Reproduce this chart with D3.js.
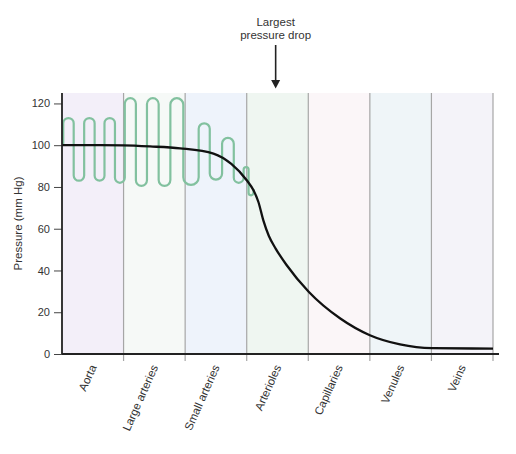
<!DOCTYPE html>
<html>
<head>
<meta charset="utf-8">
<script src="https://cdn.jsdelivr.net/npm/d3@7"></script>
<style>
  body { margin: 0; background: #fff; }
  text { font-family: "Liberation Sans", Arial, sans-serif; fill: #333; }
</style>
</head>
<body>
<div id="chart"></div>
<script>
var vessels = ["Aorta", "Large arteries", "Small arteries", "Arterioles", "Capillaries", "Venules", "Veins"];
var bandColors = ["#f3eff9", "#f6f9f7", "#eef3fb", "#eff6f1", "#fbf6f8", "#eff5f8", "#f4f3f9"];
var yTicks = [0, 20, 40, 60, 80, 100, 120];

// mean pressure along the circulation (position in vessel segments)
var meanPos = [0, 0.62, 1.0, 1.43, 1.92, 2.46, 2.75, 3.0, 3.11, 3.19, 3.27, 3.36, 3.47, 3.65, 4.01, 4.52, 5.0, 5.49, 6.01, 7.0];
var meanPressure = [100, 100, 99.9, 99.4, 98.5, 96, 91, 83.2, 78.4, 72.8, 64, 56.5, 50.5, 42.5, 29.7, 17, 9, 4.6, 2.8, 2.6];

// pulsatile pressure: position of each stroke and the pressure where it turns
var pulseStart = 100;
var pulsePos = [0.02, 0.19, 0.36, 0.53, 0.69, 0.86, 1.02, 1.20, 1.38, 1.57, 1.76, 1.97, 2.22, 2.40, 2.60, 2.79, 2.95, 3.03, 3.11];
var pulsePressure = [113, 83, 113, 83, 113, 82, 122.5, 80.5, 122.5, 80.5, 122.5, 81, 110.5, 83.5, 103.5, 82, 89.5, 76, 79];

var annotation = ["Largest", "pressure drop"];
var annotationPos = 3.47;

var width = 516, height = 454;
var margin = {top: 93, right: 23, bottom: 100, left: 62};

var svg = d3.select("#chart").append("svg")
    .attr("width", width)
    .attr("height", height);

var x = d3.scaleLinear()
    .domain([0, vessels.length])
    .range([margin.left, width - margin.right]);

var band = d3.scaleBand()
    .domain(vessels)
    .range(x.range());

var y = d3.scaleLinear()
    .domain([0, 125])
    .range([height - margin.bottom, margin.top]);

// background bands
svg.append("g").selectAll("rect").data(vessels)
  .enter().append("rect")
    .attr("x", function(d) { return band(d); })
    .attr("y", y(125))
    .attr("width", band.bandwidth())
    .attr("height", y(0) - y(125))
    .attr("fill", function(d, i) { return bandColors[i]; });

// separators, running through to the ticks under the axis
svg.append("g").selectAll("line").data(d3.range(1, vessels.length + 1))
  .enter().append("line")
    .attr("x1", function(d) { return x(d); })
    .attr("x2", function(d) { return x(d); })
    .attr("y1", y(125))
    .attr("y2", y(0) + 7)
    .attr("stroke", "#a6a6a6")
    .attr("stroke-width", 1.2);

// pulse trace: vertical strokes joined by round caps
var p = d3.path();
p.moveTo(x(pulsePos[0]), y(pulseStart));
var prev = pulseStart;
pulsePos.forEach(function(pos, i) {
  var xi = x(pos), yi = y(pulsePressure[i]);
  if (i < pulsePos.length - 1) {
    var r = (x(pulsePos[i + 1]) - xi) / 2;
    var up = pulsePressure[i] > prev;
    var cy = up ? yi + r : yi - r;
    p.lineTo(xi, cy);
    p.arc(xi + r, cy, r, Math.PI, up ? 2 * Math.PI : 0, !up);
  } else {
    p.lineTo(xi, yi);
  }
  prev = pulsePressure[i];
});

svg.append("path")
    .attr("d", p.toString())
    .attr("fill", "none")
    .attr("stroke", "#82c19f")
    .attr("stroke-width", 2.2);

// mean pressure curve
var line = d3.line()
    .x(function(d) { return x(d[0]); })
    .y(function(d) { return y(d[1]); })
    .curve(d3.curveMonotoneX);

svg.append("path")
    .datum(d3.zip(meanPos, meanPressure))
    .attr("d", line)
    .attr("fill", "none")
    .attr("stroke", "#111")
    .attr("stroke-width", 2.3);

// y axis
var yAxis = svg.append("g")
    .attr("transform", "translate(" + margin.left + ",0)")
    .call(d3.axisLeft(y).tickValues(yTicks).tickSize(8).tickPadding(4));
yAxis.select(".domain").remove();
yAxis.selectAll(".tick line").attr("stroke", "#444");
yAxis.selectAll(".tick text")
    .style("font-family", "'Liberation Sans', Arial, sans-serif")
    .style("font-size", "11px")
    .attr("fill", "#333");

svg.append("line")
    .attr("x1", margin.left).attr("x2", margin.left)
    .attr("y1", y(125)).attr("y2", y(0))
    .attr("stroke", "#222").attr("stroke-width", 1.8);

svg.append("line")
    .attr("x1", margin.left).attr("x2", x(vessels.length) + 6)
    .attr("y1", y(0)).attr("y2", y(0))
    .attr("stroke", "#222").attr("stroke-width", 1.8);

svg.append("text")
    .attr("transform", "translate(22," + (y(0) + y(125)) / 2 + ") rotate(-90)")
    .attr("text-anchor", "middle")
    .style("font-size", "11.5px")
    .text("Pressure (mm Hg)");

// vessel labels
svg.append("g").selectAll("text").data(vessels)
  .enter().append("text")
    .attr("transform", function(d) {
      return "translate(" + (band(d) + band.bandwidth() / 2 + 4) + "," + (y(0) + 13) + ") rotate(-66)";
    })
    .attr("text-anchor", "end")
    .style("font-size", "11.5px")
    .text(function(d) { return d; });

// annotation
var ax = x(annotationPos);
svg.append("text")
    .attr("x", ax)
    .attr("y", 26)
    .attr("text-anchor", "middle")
    .style("font-size", "11.5px")
  .selectAll("tspan").data(annotation)
  .enter().append("tspan")
    .attr("x", ax)
    .attr("dy", function(d, i) { return i ? 13 : 0; })
    .text(function(d) { return d; });

svg.append("line")
    .attr("x1", ax).attr("x2", ax)
    .attr("y1", 45).attr("y2", 81)
    .attr("stroke", "#222").attr("stroke-width", 1.6);

svg.append("path")
    .attr("d", "M" + (ax - 4.5) + ",80L" + (ax + 4.5) + ",80L" + ax + ",88.5Z")
    .attr("fill", "#222");
</script>
</body>
</html>
